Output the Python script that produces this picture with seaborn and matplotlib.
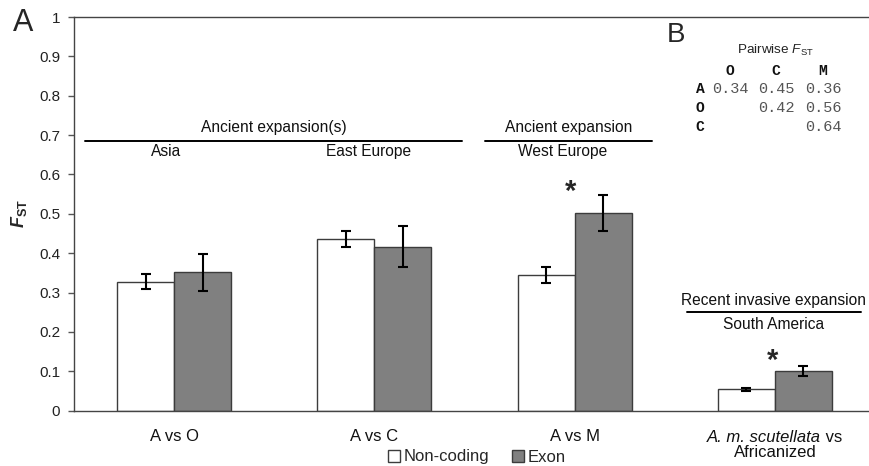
import matplotlib
matplotlib.use("Agg")
import matplotlib.pyplot as plt
import seaborn as sns
import pandas as pd
import numpy as np

sns.set_theme(style="white")
plt.rcParams["font.family"] = ["Liberation Sans", "DejaVu Sans"]
plt.rcParams["mathtext.fontset"] = "custom"
plt.rcParams["mathtext.rm"] = "Liberation Sans"
plt.rcParams["mathtext.it"] = "Liberation Sans:italic"
plt.rcParams["mathtext.bf"] = "Liberation Sans:bold"
plt.rcParams["mathtext.bfit"] = "Liberation Sans:italic:bold"

# Data
comparisons = ["A vs O", "A vs C", "A vs M", "A. m. scutellata vs Africanized"]
regions = ["Non-coding", "Exon"]
fst_noncoding = [0.328, 0.437, 0.345, 0.054]
fst_exon = [0.352, 0.417, 0.502, 0.101]
err_noncoding = [0.018, 0.020, 0.020, 0.004]
err_exon = [0.047, 0.051, 0.046, 0.013]

pair_rows = ["A", "O", "C"]
pair_cols = ["O", "C", "M"]
pair_values = [["0.34", "0.45", "0.36"],
               ["", "0.42", "0.56"],
               ["", "", "0.64"]]

df = pd.DataFrame({
    "comparison": comparisons * 2,
    "region": [regions[0]] * 4 + [regions[1]] * 4,
    "fst": fst_noncoding + fst_exon,
})

fig = plt.figure(figsize=(8.69, 4.66), dpi=100)
ax = fig.add_axes([74 / 869, 1 - 410.7 / 466, (875 - 74) / 869, (410.7 - 17) / 466])

sns.barplot(data=df, x="comparison", y="fst", hue="region", order=comparisons,
            hue_order=regions, palette=["white", "#808080"], edgecolor="#3c3c3c",
            linewidth=1.0, width=0.57, errorbar=None, ax=ax, legend=False)

# error bars at bar centres
for cont, errs in zip(ax.containers, [err_noncoding, err_exon]):
    for patch, e in zip(cont.patches, errs):
        xc = patch.get_x() + patch.get_width() / 2
        ax.errorbar(xc, patch.get_height(), yerr=e, color="black",
                    elinewidth=1.5, capsize=3.5, capthick=1.5, zorder=5)

ax.set_xlim(-0.5, 3.5)
ax.set_ylim(0, 1)
ax.set_yticks(np.arange(0, 1.01, 0.1))
ax.set_yticklabels([f"{v:g}" for v in np.arange(0, 1.01, 0.1)], fontsize=11, color="#222222")
ax.set_xticks(range(4))
ax.set_xticklabels(comparisons[:3] + [""], fontsize=12, color="#111111")
ax.set_xticks([-0.5, 0.5, 1.5, 2.5], minor=True)
ax.tick_params(axis="x", which="major", length=0, pad=13)
ax.tick_params(axis="x", which="minor", length=4, direction="out", color="#888888", width=1)
ax.tick_params(axis="y", length=4, direction="out", color="#555555", width=1, left=True, pad=6)
ax.set_xlabel("")
ax.set_ylabel("$\\mathbfit{F}_{\\mathbf{ST}}$", fontsize=13, labelpad=7)
for s in ["left", "bottom", "top"]:
    ax.spines[s].set_visible(True)
    ax.spines[s].set_color("#444444")
    ax.spines[s].set_linewidth(1.0)
ax.spines["right"].set_visible(False)

# fourth category label: italic taxon name followed by plain text
fig.canvas.draw()
renderer = fig.canvas.get_renderer()
lab_y = 1 - 437 / 466
t1 = fig.text(0, lab_y, "A. m. scutellata", fontsize=12, style="italic",
              ha="left", va="center", color="#111111")
t2 = fig.text(0, lab_y, " vs", fontsize=12, ha="left", va="center", color="#111111")
w1 = t1.get_window_extent(renderer).width
w2 = t2.get_window_extent(renderer).width
xc_px = ax.transData.transform((3, 0))[0]
x0 = xc_px - (w1 + w2) / 2
t1.set_x(x0 / fig.bbox.width)
t2.set_x((x0 + w1) / fig.bbox.width)
fig.text(xc_px / fig.bbox.width, 1 - 452.5 / 466, "Africanized", fontsize=12,
         ha="center", va="center", color="#111111")

# expansion annotations
ann_kw = dict(ha="center", va="center", fontsize=11.2, color="#111111")
ax.plot([-0.444, 1.439], [0.686, 0.686], color="black", lw=1.4, clip_on=False)
ax.text(0.497, 0.719, "Ancient expansion(s)", **ann_kw)
ax.text(-0.041, 0.658, "Asia", **ann_kw)
ax.text(0.969, 0.658, "East Europe", **ann_kw)
ax.plot([1.553, 2.386], [0.686, 0.686], color="black", lw=1.4, clip_on=False)
ax.text(1.97, 0.719, "Ancient expansion", **ann_kw)
ax.text(1.94, 0.658, "West Europe", **ann_kw)
ax.plot([2.561, 3.43], [0.251, 0.251], color="black", lw=1.4, clip_on=False)
ax.text(2.995, 0.279, "Recent invasive expansion", **ann_kw)
ax.text(2.995, 0.22, "South America", **ann_kw)

# significance marks
ax.text(1.98, 0.555, "*", ha="center", va="center", fontsize=21, fontweight="bold")
ax.text(2.99, 0.126, "*", ha="center", va="center", fontsize=21, fontweight="bold")

# legend
handles = [plt.Rectangle((0, 0), 1, 1, facecolor=c, edgecolor="#3c3c3c", lw=1)
           for c in ["white", "#808080"]]
fig.legend(handles, regions, loc="center", bbox_to_anchor=(477 / 869, 1 - 457 / 466),
           ncol=2, frameon=False, fontsize=12, handlelength=0.7, handleheight=0.7,
           handletextpad=0.2, columnspacing=1.4, borderpad=0)

# panel letters
fig.text(23 / 869, 1 - 23 / 466, "A", fontsize=22, ha="center", va="center")
fig.text(676 / 869, 1 - 35 / 466, "B", fontsize=20, ha="center", va="center")

# pairwise table
fig.text(775 / 869, 1 - 50 / 466, "Pairwise $\\mathit{F}_{\\mathrm{ST}}$", fontsize=9.7,
         ha="center", va="center", color="#222222")
col_x = [730, 776, 823]
row_y = [89, 108, 127]
mono = ["Liberation Mono", "DejaVu Sans Mono"]
for cx, lab in zip(col_x, pair_cols):
    fig.text(cx / 869, 1 - 71 / 466, lab, family=mono, fontweight="bold",
             fontsize=10.5, ha="center", va="center", color="#111111")
for ry, lab, vals in zip(row_y, pair_rows, pair_values):
    fig.text(700 / 869, 1 - ry / 466, lab, family=mono, fontweight="bold",
             fontsize=10.5, ha="center", va="center", color="#111111")
    for cx, v in zip(col_x, vals):
        if v:
            fig.text(cx / 869, 1 - ry / 466, v, family=mono, fontsize=11,
                     ha="center", va="center", color="#555555")

fig.savefig("out.png", dpi=100)
